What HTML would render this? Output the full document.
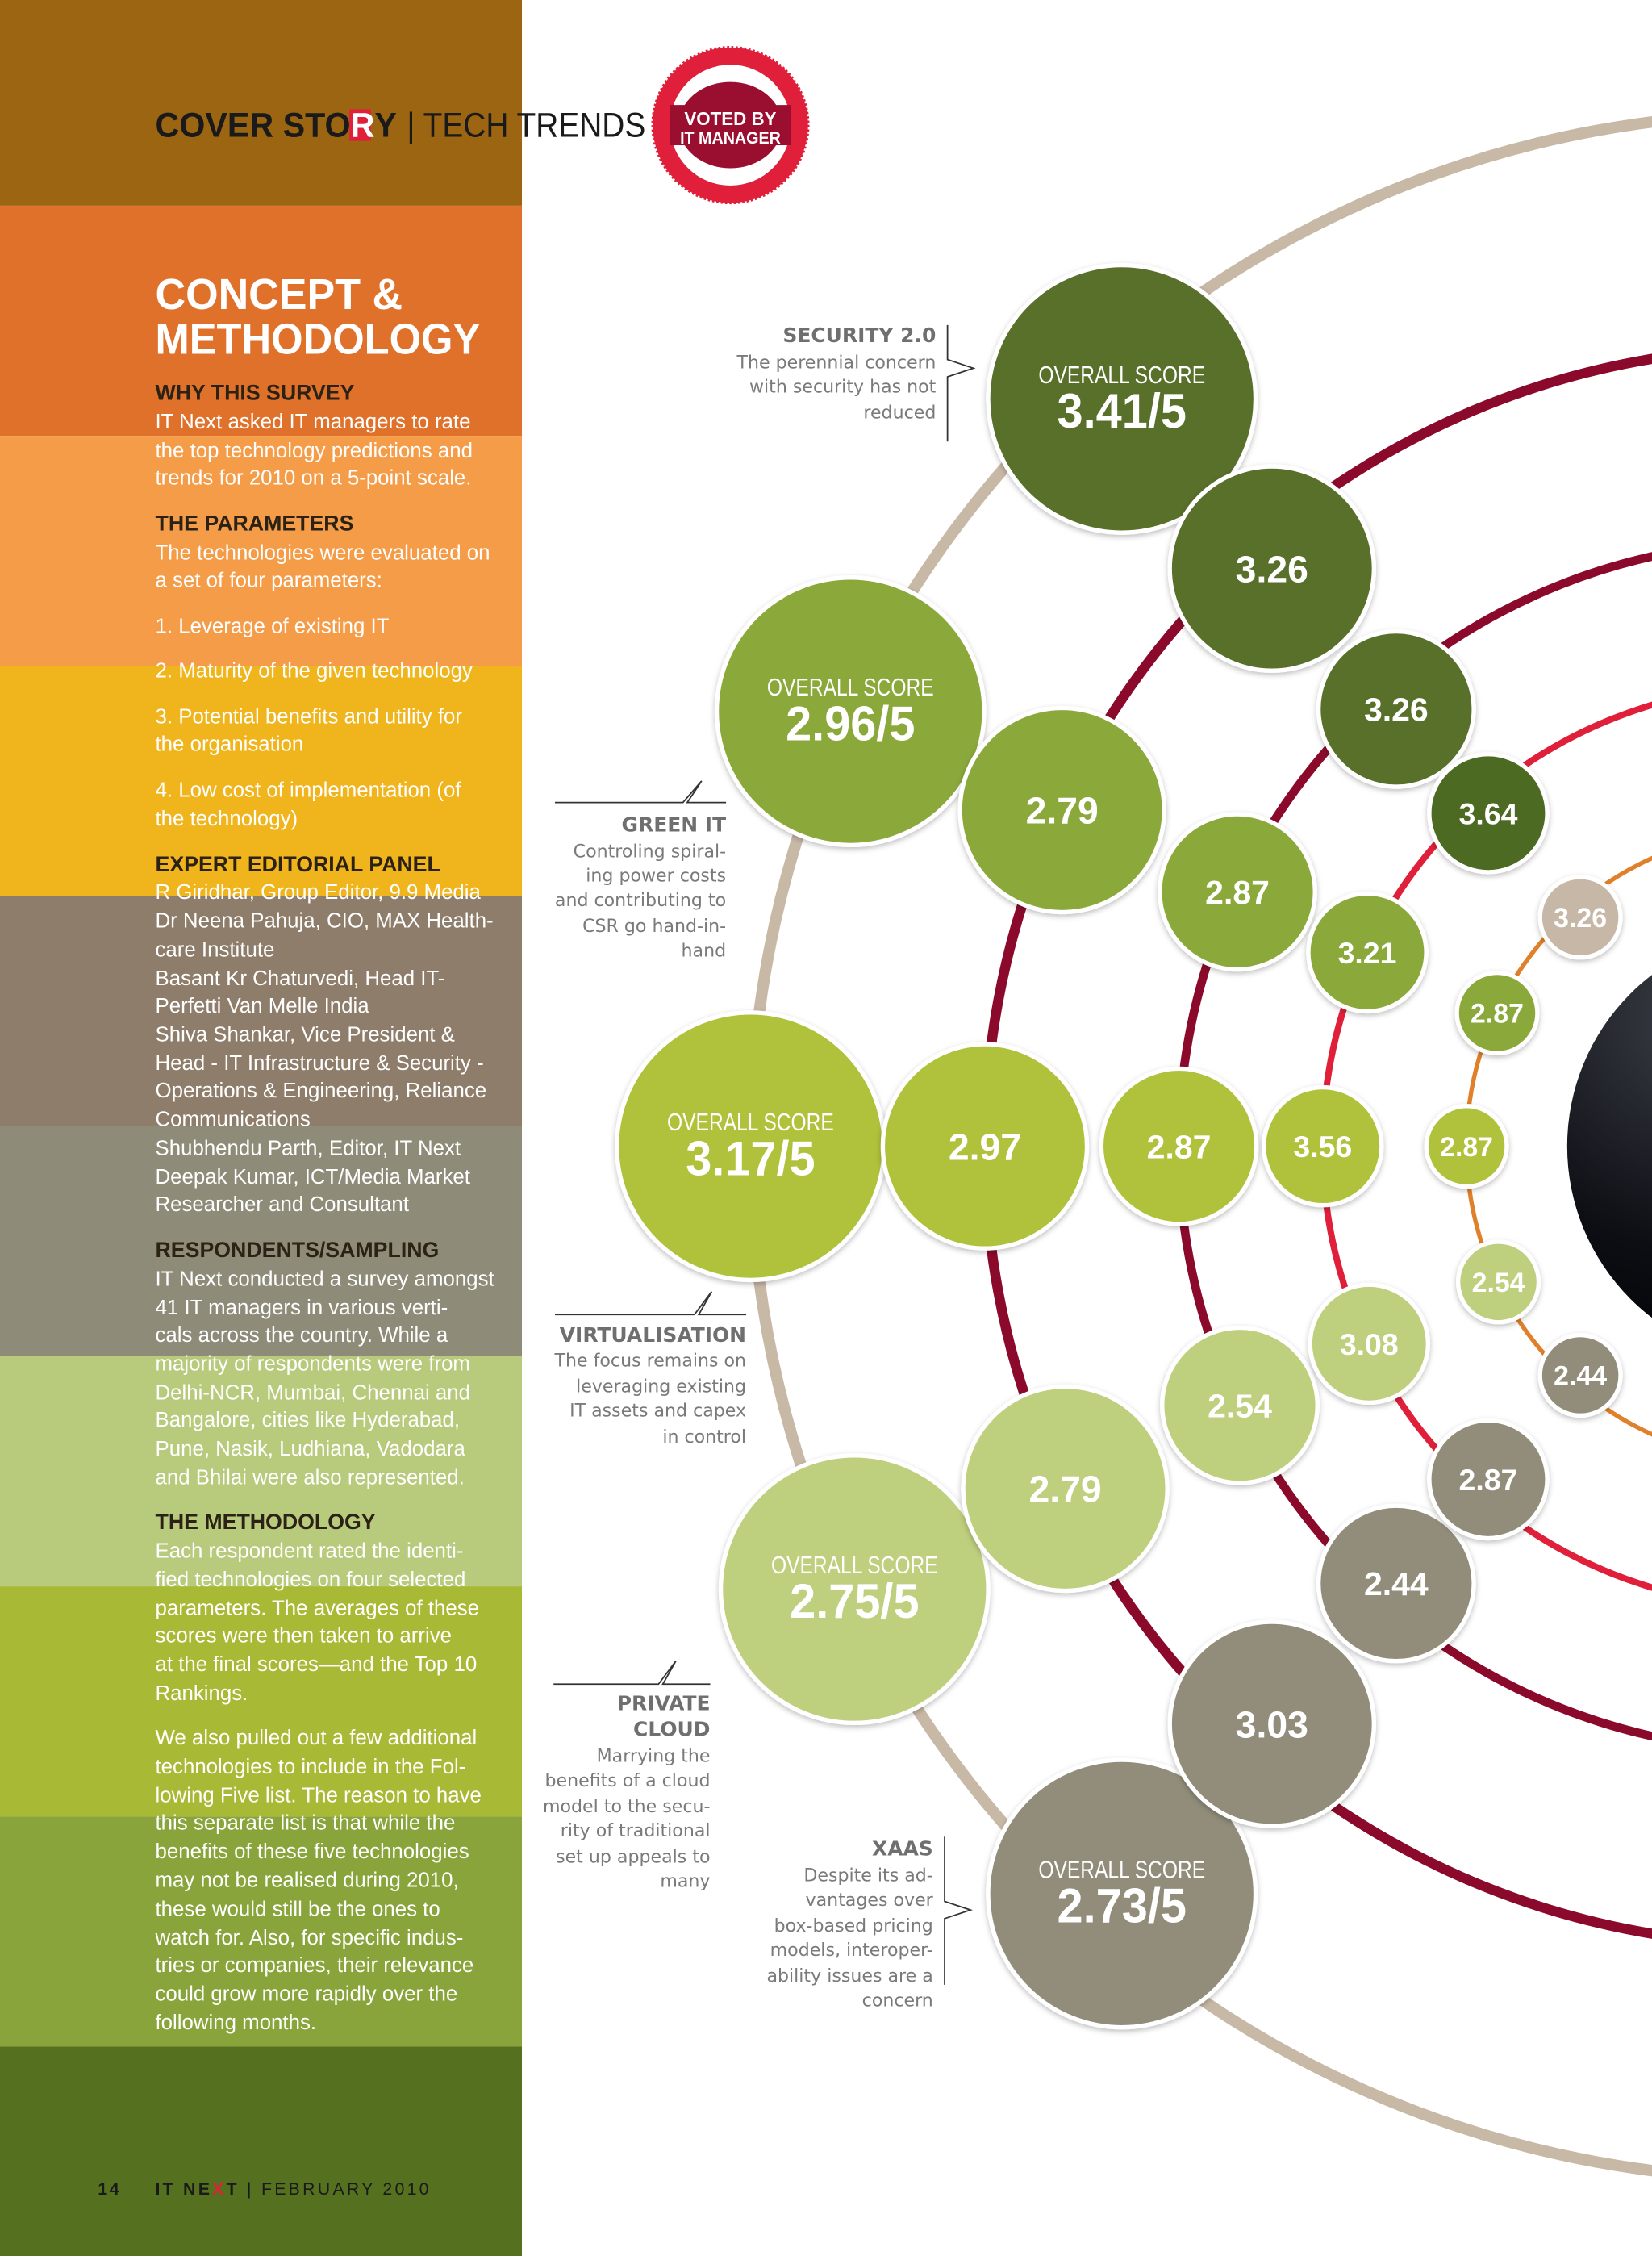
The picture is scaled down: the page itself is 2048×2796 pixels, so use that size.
<!DOCTYPE html>
<html><head><meta charset="utf-8"><style>
html,body{margin:0;padding:0;background:#fff}
svg{display:block}
.lt{font-family:"Liberation Sans Narrow","Liberation Sans",sans-serif;font-size:14.5px;fill:#fff}
.lh{font-family:"Liberation Sans Narrow","Liberation Sans",sans-serif;font-size:15px;font-weight:bold;fill:#2b2215}
.an{font-family:"DejaVu Sans","Liberation Sans",sans-serif;font-size:12.4px;fill:#7a7a7a;text-anchor:end}
.at{font-family:"DejaVu Sans","Liberation Sans",sans-serif;font-size:14px;font-weight:bold;fill:#6f6f6f;text-anchor:end}
</style></head><body>
<svg id="page" width="2048" height="2796" viewBox="0 0 1149 1568.6" preserveAspectRatio="none" xmlns="http://www.w3.org/2000/svg">
<defs>
<radialGradient id="dark" cx="0.3" cy="0.2" r="0.9"><stop offset="0" stop-color="#3a3d45"/><stop offset="0.6" stop-color="#0d0e14"/><stop offset="1" stop-color="#000"/></radialGradient>
<filter id="sh" x="-20%" y="-20%" width="140%" height="140%"><feDropShadow dx="0" dy="1.5" stdDeviation="2" flood-color="#000" flood-opacity="0.25"/></filter>
</defs>
<g>
<rect x="0" y="0" width="363" height="143" fill="#9C6511"/>
<rect x="0" y="143" width="363" height="160" fill="#E0712B"/>
<rect x="0" y="303" width="363" height="160" fill="#F49C48"/>
<rect x="0" y="463" width="363" height="160" fill="#F0B41C"/>
<rect x="0" y="623" width="363" height="160" fill="#8E7D6A"/>
<rect x="0" y="783" width="363" height="160" fill="#8F8B79"/>
<rect x="0" y="943" width="363" height="160" fill="#B8CA7C"/>
<rect x="0" y="1103" width="363" height="160" fill="#A8BA35"/>
<rect x="0" y="1263" width="363" height="160" fill="#88A43A"/>
<rect x="0" y="1423" width="363" height="146" fill="#55701F"/>
</g>
<g>
<rect x="243" y="76" width="15" height="22" fill="#E0203A"/>
<text x="108" y="95" font-family="Liberation Sans" font-weight="bold" font-size="24" fill="#1a1a1a" textLength="168" lengthAdjust="spacingAndGlyphs">COVER STO<tspan fill="#fff">R</tspan>Y</text>
<text x="283" y="95" font-family="Liberation Sans" font-size="24" fill="#1a1a1a" textLength="166" lengthAdjust="spacingAndGlyphs">| TECH TRENDS</text>
<g>
<circle cx="508" cy="87" r="54" fill="#E0203A" stroke="#E0203A" stroke-width="2" stroke-dasharray="1.5 1.5"/>
<circle cx="508" cy="87" r="42" fill="#fff"/>
<ellipse cx="508" cy="87" rx="36" ry="30" fill="#9A0F30"/>
<rect x="466" y="73" width="84" height="28" fill="#9A0F30"/>
<text x="508" y="87" text-anchor="middle" font-family="Liberation Sans" font-weight="bold" font-size="13" fill="#fff" textLength="64" lengthAdjust="spacingAndGlyphs">VOTED BY</text>
<text x="508" y="100" text-anchor="middle" font-family="Liberation Sans" font-weight="bold" font-size="12" fill="#fff" textLength="70" lengthAdjust="spacingAndGlyphs">IT MANAGER</text>
</g>
</g>
<g>
<text x="108" y="215" font-family="Liberation Sans" font-weight="bold" font-size="30" fill="#fff" textLength="172" lengthAdjust="spacingAndGlyphs">CONCEPT &amp;</text>
<text x="108" y="246" font-family="Liberation Sans" font-weight="bold" font-size="30" fill="#fff" textLength="226" lengthAdjust="spacingAndGlyphs">METHODOLOGY</text>
<g id="lines"></g>
</g>
<g>
<text x="68" y="1526" font-family="Liberation Sans" font-weight="bold" font-size="12" fill="#1a1a1a" letter-spacing="1.5">14</text>
<text x="108" y="1526" font-family="Liberation Sans" font-size="12" fill="#1a1a1a" letter-spacing="1.8"><tspan font-weight="bold">IT NE<tspan fill="#E0203A">X</tspan>T</tspan> | FEBRUARY 2010</text>
</g>
<g id="chart"></g>
<g>
<g>
<path d="M659,226 V250 L677,256 L659,262 V307" fill="none" stroke="#333" stroke-width="1"/>
<text class="at" x="651" y="238">SECURITY 2.0</text>
<text class="an" x="651" y="256">The perennial concern</text>
<text class="an" x="651" y="273">with security has not</text>
<text class="an" x="651" y="291">reduced</text>
</g>
<g>
<path d="M386,558 H475 L488,543 L478,558 H505" fill="none" stroke="#333" stroke-width="1"/>
<text class="at" x="505" y="578">GREEN IT</text>
<text class="an" x="505" y="596">Controling spiral-</text>
<text class="an" x="505" y="613">ing power costs</text>
<text class="an" x="505" y="630">and contributing to</text>
<text class="an" x="505" y="648">CSR go hand-in-</text>
<text class="an" x="505" y="665">hand</text>
</g>
<g>
<path d="M386,914 H483 L495,898 L486,914 H519" fill="none" stroke="#333" stroke-width="1"/>
<text class="at" x="519" y="933">VIRTUALISATION</text>
<text class="an" x="519" y="950">The focus remains on</text>
<text class="an" x="519" y="968">leveraging existing</text>
<text class="an" x="519" y="985">IT assets and capex</text>
<text class="an" x="519" y="1003">in control</text>
</g>
<g>
<path d="M385,1171 H458 L470,1155 L461,1171 H494" fill="none" stroke="#333" stroke-width="1"/>
<text class="at" x="494" y="1189">PRIVATE</text>
<text class="at" x="494" y="1207">CLOUD</text>
<text class="an" x="494" y="1225">Marrying the</text>
<text class="an" x="494" y="1242">benefits of a cloud</text>
<text class="an" x="494" y="1260">model to the secu-</text>
<text class="an" x="494" y="1277">rity of traditional</text>
<text class="an" x="494" y="1295">set up appeals to</text>
<text class="an" x="494" y="1312">many</text>
</g>
<g>
<path d="M657,1277 V1322 L675,1328 L657,1334 V1380" fill="none" stroke="#333" stroke-width="1"/>
<text class="at" x="649" y="1290">XAAS</text>
<text class="an" x="649" y="1308">Despite its ad-</text>
<text class="an" x="649" y="1325">vantages over</text>
<text class="an" x="649" y="1343">box-based pricing</text>
<text class="an" x="649" y="1360">models, interoper-</text>
<text class="an" x="649" y="1378">ability issues are a</text>
<text class="an" x="649" y="1395">concern</text>
</g>
</g>
</svg>
<script>
// ---- chart data ----
const technologies = ['Security 2.0','Green IT','Virtualisation','Private Cloud','XaaS'];
const overallScores = [3.41, 2.96, 3.17, 2.75, 2.73];
const leverageScores = [3.26, 2.79, 2.97, 2.79, 3.03];
const maturityScores = [3.26, 2.87, 2.87, 2.54, 2.44];
const benefitScores = [3.64, 3.21, 3.56, 3.08, 2.87];
const costScores = [3.26, 2.87, 2.87, 2.54, 2.44];
const rowAngles = [48.5, 25, 0, -25.5, -48.5];

const NS='http://www.w3.org/2000/svg';
const CX=1240, CY=797;
const ringRadius=[718,555,420,320,220];
const ringStroke=['#C8B8A6','#8B0A2C','#8B0A2C','#E0203A','#E0802A'];
const ringWidth=[8,7,6,4.5,3];
const bubbleR=[93,71,54,41,28];
const fontSz=[32,26,23,21,19];
const rowColors=['#58702A','#8BA83A','#B0C23A','#BECF7E','#918D7A'];
const series=[overallScores,leverageScores,maturityScores,benefitScores,costScores];
function colorFor(ring,row){
  if(ring===3&&row===0) return '#4E6A22';
  if(ring===4&&row===0) return '#C7B7A7';
  return rowColors[row];
}
function pos(ring,row){
  const a=rowAngles[row]*Math.PI/180;
  const s=Math.sin(a);
  const r=ringRadius[ring]*(1-0.107*s*s*s*s);
  return [CX-r*Math.cos(a), CY-r*s];
}
const chart=document.getElementById('chart');
ringRadius.forEach((r,i)=>{
  const c=document.createElementNS(NS,'circle');
  
  
  c.setAttribute('cx',CX);c.setAttribute('cy',CY);c.setAttribute('r',r);
  c.setAttribute('fill','none');c.setAttribute('stroke',ringStroke[i]);c.setAttribute('stroke-width',ringWidth[i]);
  chart.appendChild(c);
});
const hub=document.createElementNS(NS,'circle');


hub.setAttribute('cx',CX);hub.setAttribute('cy',CY);hub.setAttribute('r',150);hub.setAttribute('fill','url(#dark)');
chart.appendChild(hub);
series.forEach((vals,ring)=>{
  vals.forEach((v,row)=>{
    const [x,y]=pos(ring,row);
    const g=document.createElementNS(NS,'g');
    
    
    const c=document.createElementNS(NS,'circle');
    c.setAttribute('cx',x);c.setAttribute('cy',y);c.setAttribute('r',bubbleR[ring]);
    c.setAttribute('fill',colorFor(ring,row));c.setAttribute('stroke','#fff');c.setAttribute('stroke-width',3);
    c.setAttribute('filter','url(#sh)');
    g.appendChild(c);
    if(ring===0){
      const t1=document.createElementNS(NS,'text');
      t1.setAttribute('x',x);t1.setAttribute('y',y-11);t1.setAttribute('text-anchor','middle');
      t1.setAttribute('font-family','Liberation Sans Narrow, Liberation Sans, sans-serif');t1.setAttribute('font-size','17');t1.setAttribute('fill','#fff');
      t1.setAttribute('textLength','116');t1.setAttribute('lengthAdjust','spacingAndGlyphs');
      t1.textContent='OVERALL SCORE';g.appendChild(t1);
      const t2=document.createElementNS(NS,'text');
      t2.setAttribute('x',x);t2.setAttribute('y',y+20);t2.setAttribute('text-anchor','middle');
      t2.setAttribute('font-family','Liberation Sans, sans-serif');t2.setAttribute('font-weight','bold');t2.setAttribute('font-size','34');t2.setAttribute('fill','#fff');
      t2.setAttribute('textLength','90');t2.setAttribute('lengthAdjust','spacingAndGlyphs');
      t2.textContent=v.toFixed(2)+'/5';g.appendChild(t2);
    } else {
      const t=document.createElementNS(NS,'text');
      t.setAttribute('x',x);t.setAttribute('y',y+fontSz[ring]*0.36);t.setAttribute('text-anchor','middle');
      t.setAttribute('font-family','Liberation Sans, sans-serif');t.setAttribute('font-weight','bold');
      t.setAttribute('font-size',fontSz[ring]);t.setAttribute('fill','#fff');
      t.textContent=v.toFixed(2);g.appendChild(t);
    }
    chart.appendChild(g);
  });
});
// ---- sidebar text ----
const L=[
['h',278,'WHY THIS SURVEY'],['t',298,'IT Next asked IT managers to rate'],['t',318,'the top technology predictions and'],['t',337,'trends for 2010 on a 5-point scale.'],
['h',369,'THE PARAMETERS'],['t',389,'The technologies were evaluated on'],['t',408,'a set of four parameters:'],
['t',440,'1. Leverage of existing IT'],['t',471,'2. Maturity of the given technology'],['t',503,'3. Potential benefits and utility for'],['t',522,'    the organisation'],
['t',554,'4. Low cost of implementation (of'],['t',574,'the technology)'],
['h',606,'EXPERT EDITORIAL PANEL'],['t',625,'R Giridhar, Group Editor, 9.9 Media'],['t',645,'Dr Neena Pahuja, CIO, MAX Health-'],['t',665,'care Institute'],
['t',685,'Basant Kr Chaturvedi, Head IT-'],['t',704,'Perfetti Van Melle India'],['t',724,'Shiva Shankar, Vice President &'],['t',744,'Head - IT Infrastructure & Security -'],
['t',763,'Operations & Engineering, Reliance'],['t',783,'Communications'],['t',803,'Shubhendu Parth, Editor, IT Next'],['t',823,'Deepak Kumar, ICT/Media Market'],['t',842,'Researcher and Consultant'],
['h',874,'RESPONDENTS/SAMPLING'],['t',894,'IT Next conducted a survey amongst'],['t',914,'41 IT managers in various verti-'],['t',933,'cals across the country. While a'],
['t',953,'majority of respondents were from'],['t',973,'Delhi-NCR, Mumbai, Chennai and'],['t',992,'Bangalore, cities like Hyderabad,'],['t',1012,'Pune, Nasik, Ludhiana, Vadodara'],['t',1032,'and Bhilai were also represented.'],
['h',1063,'THE METHODOLOGY'],['t',1083,'Each respondent rated the identi-'],['t',1103,'fied technologies on four selected'],['t',1123,'parameters. The averages of these'],['t',1142,'scores were then taken to arrive'],['t',1162,'at the final scores\u2014and the Top 10'],['t',1182,'Rankings.'],
['t',1213,'We also pulled out a few additional'],['t',1233,'technologies to include in the Fol-'],['t',1253,'lowing Five list. The reason to have'],['t',1272,'this separate list is that while the'],['t',1292,'benefits of these five technologies'],
['t',1312,'may not be realised during 2010,'],['t',1332,'these would still be the ones to'],['t',1352,'watch for. Also, for specific indus-'],['t',1371,'tries or companies, their relevance'],['t',1391,'could grow more rapidly over the'],['t',1411,'following months.']
];
const lg=document.getElementById('lines');
L.forEach(([k,y,s])=>{
  const t=document.createElementNS(NS,'text');
  t.setAttribute('class',k==='h'?'lh':'lt');
  t.setAttribute('transform','translate(108,'+y+') scale(1.0,1)');
  t.setAttribute('xml:space','preserve');
  t.textContent=s;
  lg.appendChild(t);
});
</script>
</body></html>
